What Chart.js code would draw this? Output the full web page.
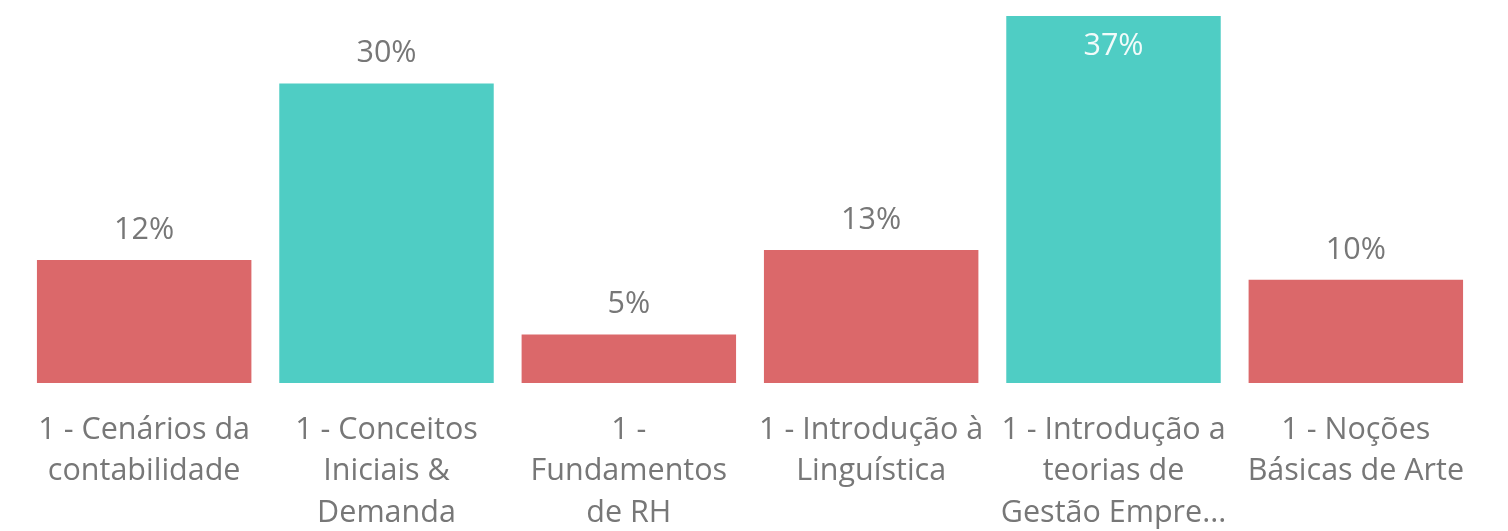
<!DOCTYPE html>
<html>
<head>
<meta charset="utf-8">
<script src="https://cdn.jsdelivr.net/npm/chart.js@4"></script>
<style>
  html, body { margin: 0; padding: 0; background: #fff; }
  #wrap { width: 1508px; height: 531px; position: relative; }
</style>
</head>
<body>
<div id="wrap"><canvas id="grafica"></canvas></div>
<script>
// datos del grafico
const categorias = [
    ["1 - Cenários da", "contabilidade"],
    ["1 - Conceitos", "Iniciais &", "Demanda"],
    ["1 -", "Fundamentos", "de RH"],
    ["1 - Introdução à", "Linguística"],
    ["1 - Introdução a", "teorias de", "Gestão Empre..."],
    ["1 - Noções", "Básicas de Arte"]
];
const porcentajes = [12.4, 30.2, 4.9, 13.4, 37, 10.4];
const etiquetas = ["12%", "30%", "5%", "13%", "37%", "10%"];
const coloresBarras = ["#DB686A", "#4FCDC4", "#DB686A", "#DB686A", "#4FCDC4", "#DB686A"];

const fuente = "'Segoe UI', 'Open Sans', sans-serif";

// plugin para escribir el porcentaje sobre cada barra
const etiquetasBarras = {
    id: "etiquetasBarras",
    afterDatasetsDraw(chart) {
        const ctx = chart.ctx;
        const meta = chart.getDatasetMeta(0);
        ctx.save();
        ctx.font = "30.5px " + fuente;
        ctx.textAlign = "center";
        ctx.textBaseline = "middle";
        meta.data.forEach((barra, i) => {
            let y = barra.y - 30;
            ctx.fillStyle = "#777777";
            if (y - 16 < 0) {
                // no hay sitio arriba, va dentro de la barra
                y = barra.y + 30;
                ctx.fillStyle = "#F2FBFA";
            }
            ctx.fillText(etiquetas[i], barra.x, y);
        });
        ctx.restore();
    }
};

const canvas = document.getElementById("grafica");
new Chart(canvas.getContext("2d"), {
    type: "bar",
    data: {
        labels: categorias,
        datasets: [{
            data: porcentajes,
            backgroundColor: coloresBarras,
            borderWidth: 0,
            categoryPercentage: 1,
            barPercentage: 0.885
        }]
    },
    options: {
        responsive: true,
        maintainAspectRatio: false,
        animation: false,
        layout: { padding: { left: 23, right: 31, top: 16, bottom: 0 } },
        plugins: {
            legend: { display: false },
            tooltip: { enabled: false }
        },
        scales: {
            x: {
                grid: { display: false, drawTicks: false },
                border: { display: false },
                ticks: {
                    color: "#777777",
                    font: { family: fuente, size: 30.5, lineHeight: 1.37 },
                    maxRotation: 0,
                    autoSkip: false,
                    padding: 26
                },
                // alto fijo del eje para que la base quede en y=383
                afterFit(escala) {
                    escala.height = 148;
                }
            },
            y: {
                display: false,
                min: 0,
                max: 37
            }
        }
    },
    plugins: [etiquetasBarras]
});
</script>
</body>
</html>
